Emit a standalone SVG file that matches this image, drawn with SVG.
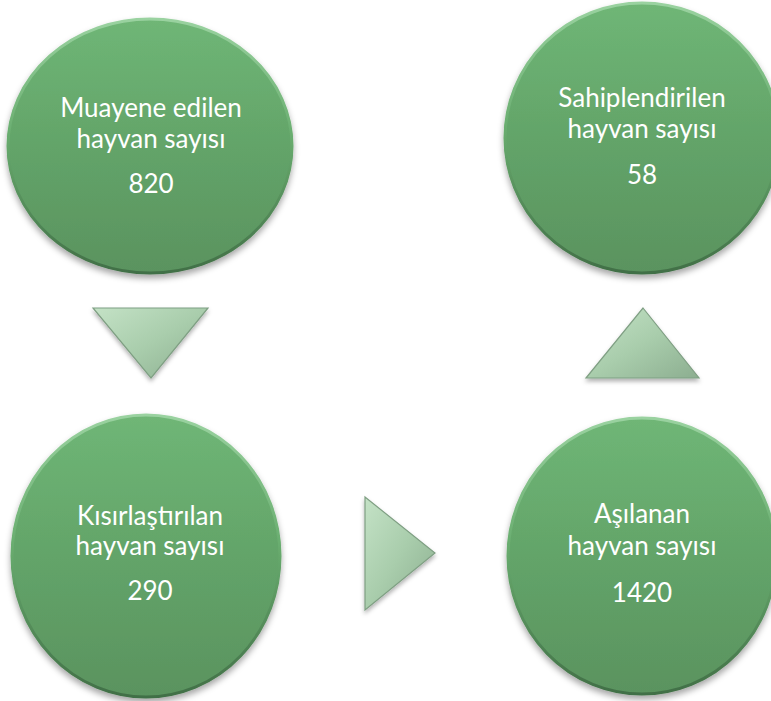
<svg xmlns="http://www.w3.org/2000/svg" width="771" height="701" viewBox="0 0 771 701">
  <defs>
    <linearGradient id="gFill" x1="0" y1="0" x2="0" y2="1">
      <stop offset="0" stop-color="#6fb676"/>
      <stop offset="0.5" stop-color="#63a469"/>
      <stop offset="1" stop-color="#5a935f"/>
    </linearGradient>
    <linearGradient id="gRim" x1="0" y1="0" x2="0" y2="1">
      <stop offset="0" stop-color="#9ad2a0"/>
      <stop offset="0.45" stop-color="#6aae70"/>
      <stop offset="1" stop-color="#416f46"/>
    </linearGradient>
    <linearGradient id="tFill" x1="0" y1="0" x2="1" y2="1">
      <stop offset="0" stop-color="#c4e2c6"/>
      <stop offset="0.5" stop-color="#a9cdac"/>
      <stop offset="1" stop-color="#8cae90"/>
    </linearGradient>
    <filter id="shadow" x="-20%" y="-20%" width="140%" height="140%">
      <feDropShadow dx="0" dy="4" stdDeviation="3" flood-color="#000" flood-opacity="0.35"/>
    </filter>
    <filter id="tshadow" x="-20%" y="-20%" width="140%" height="140%">
      <feDropShadow dx="0" dy="3" stdDeviation="2" flood-color="#000" flood-opacity="0.3"/>
    </filter>
  </defs>
  <style>
    .circle { fill: url(#gFill); stroke: url(#gRim); stroke-width: 3; filter: url(#shadow); }
    .tri { fill: url(#tFill); stroke: #7f9f83; stroke-width: 1.2; stroke-linejoin: miter; filter: url(#tshadow); }
    .lbl { font-family: Lato, "Liberation Sans", Arial, sans-serif; font-size: 26px; fill: #ffffff; text-anchor: middle; }
  </style>

  <g id="connectors">
    <polygon class="tri" points="93,308 208,308 151,378"/>
    <polygon class="tri" points="365,497 435,553 365,610"/>
    <polygon class="tri" points="643,308 699,378 586,378"/>
  </g>

  <g id="node-muayene">
    <ellipse class="circle" cx="150" cy="146" rx="142" ry="127"/>
    <text class="lbl" x="151" y="117">Muayene edilen</text>
    <text class="lbl" x="151" y="148">hayvan sayısı</text>
    <text class="lbl" x="151" y="193">820</text>
  </g>

  <g id="node-sahiplendirilen">
    <ellipse class="circle" cx="642" cy="138" rx="137" ry="135"/>
    <text class="lbl" x="642" y="107">Sahiplendirilen</text>
    <text class="lbl" x="642" y="138">hayvan sayısı</text>
    <text class="lbl" x="642" y="184">58</text>
  </g>

  <g id="node-kisirlastirilan">
    <ellipse class="circle" cx="146" cy="556" rx="134" ry="141"/>
    <text class="lbl" x="150" y="525">Kısırlaştırılan</text>
    <text class="lbl" x="150" y="555">hayvan sayısı</text>
    <text class="lbl" x="150" y="600">290</text>
  </g>

  <g id="node-asilanan">
    <ellipse class="circle" cx="642" cy="556" rx="134" ry="138"/>
    <text class="lbl" x="642" y="523">Aşılanan</text>
    <text class="lbl" x="642" y="555">hayvan sayısı</text>
    <text class="lbl" x="642" y="602">1420</text>
  </g>
</svg>
